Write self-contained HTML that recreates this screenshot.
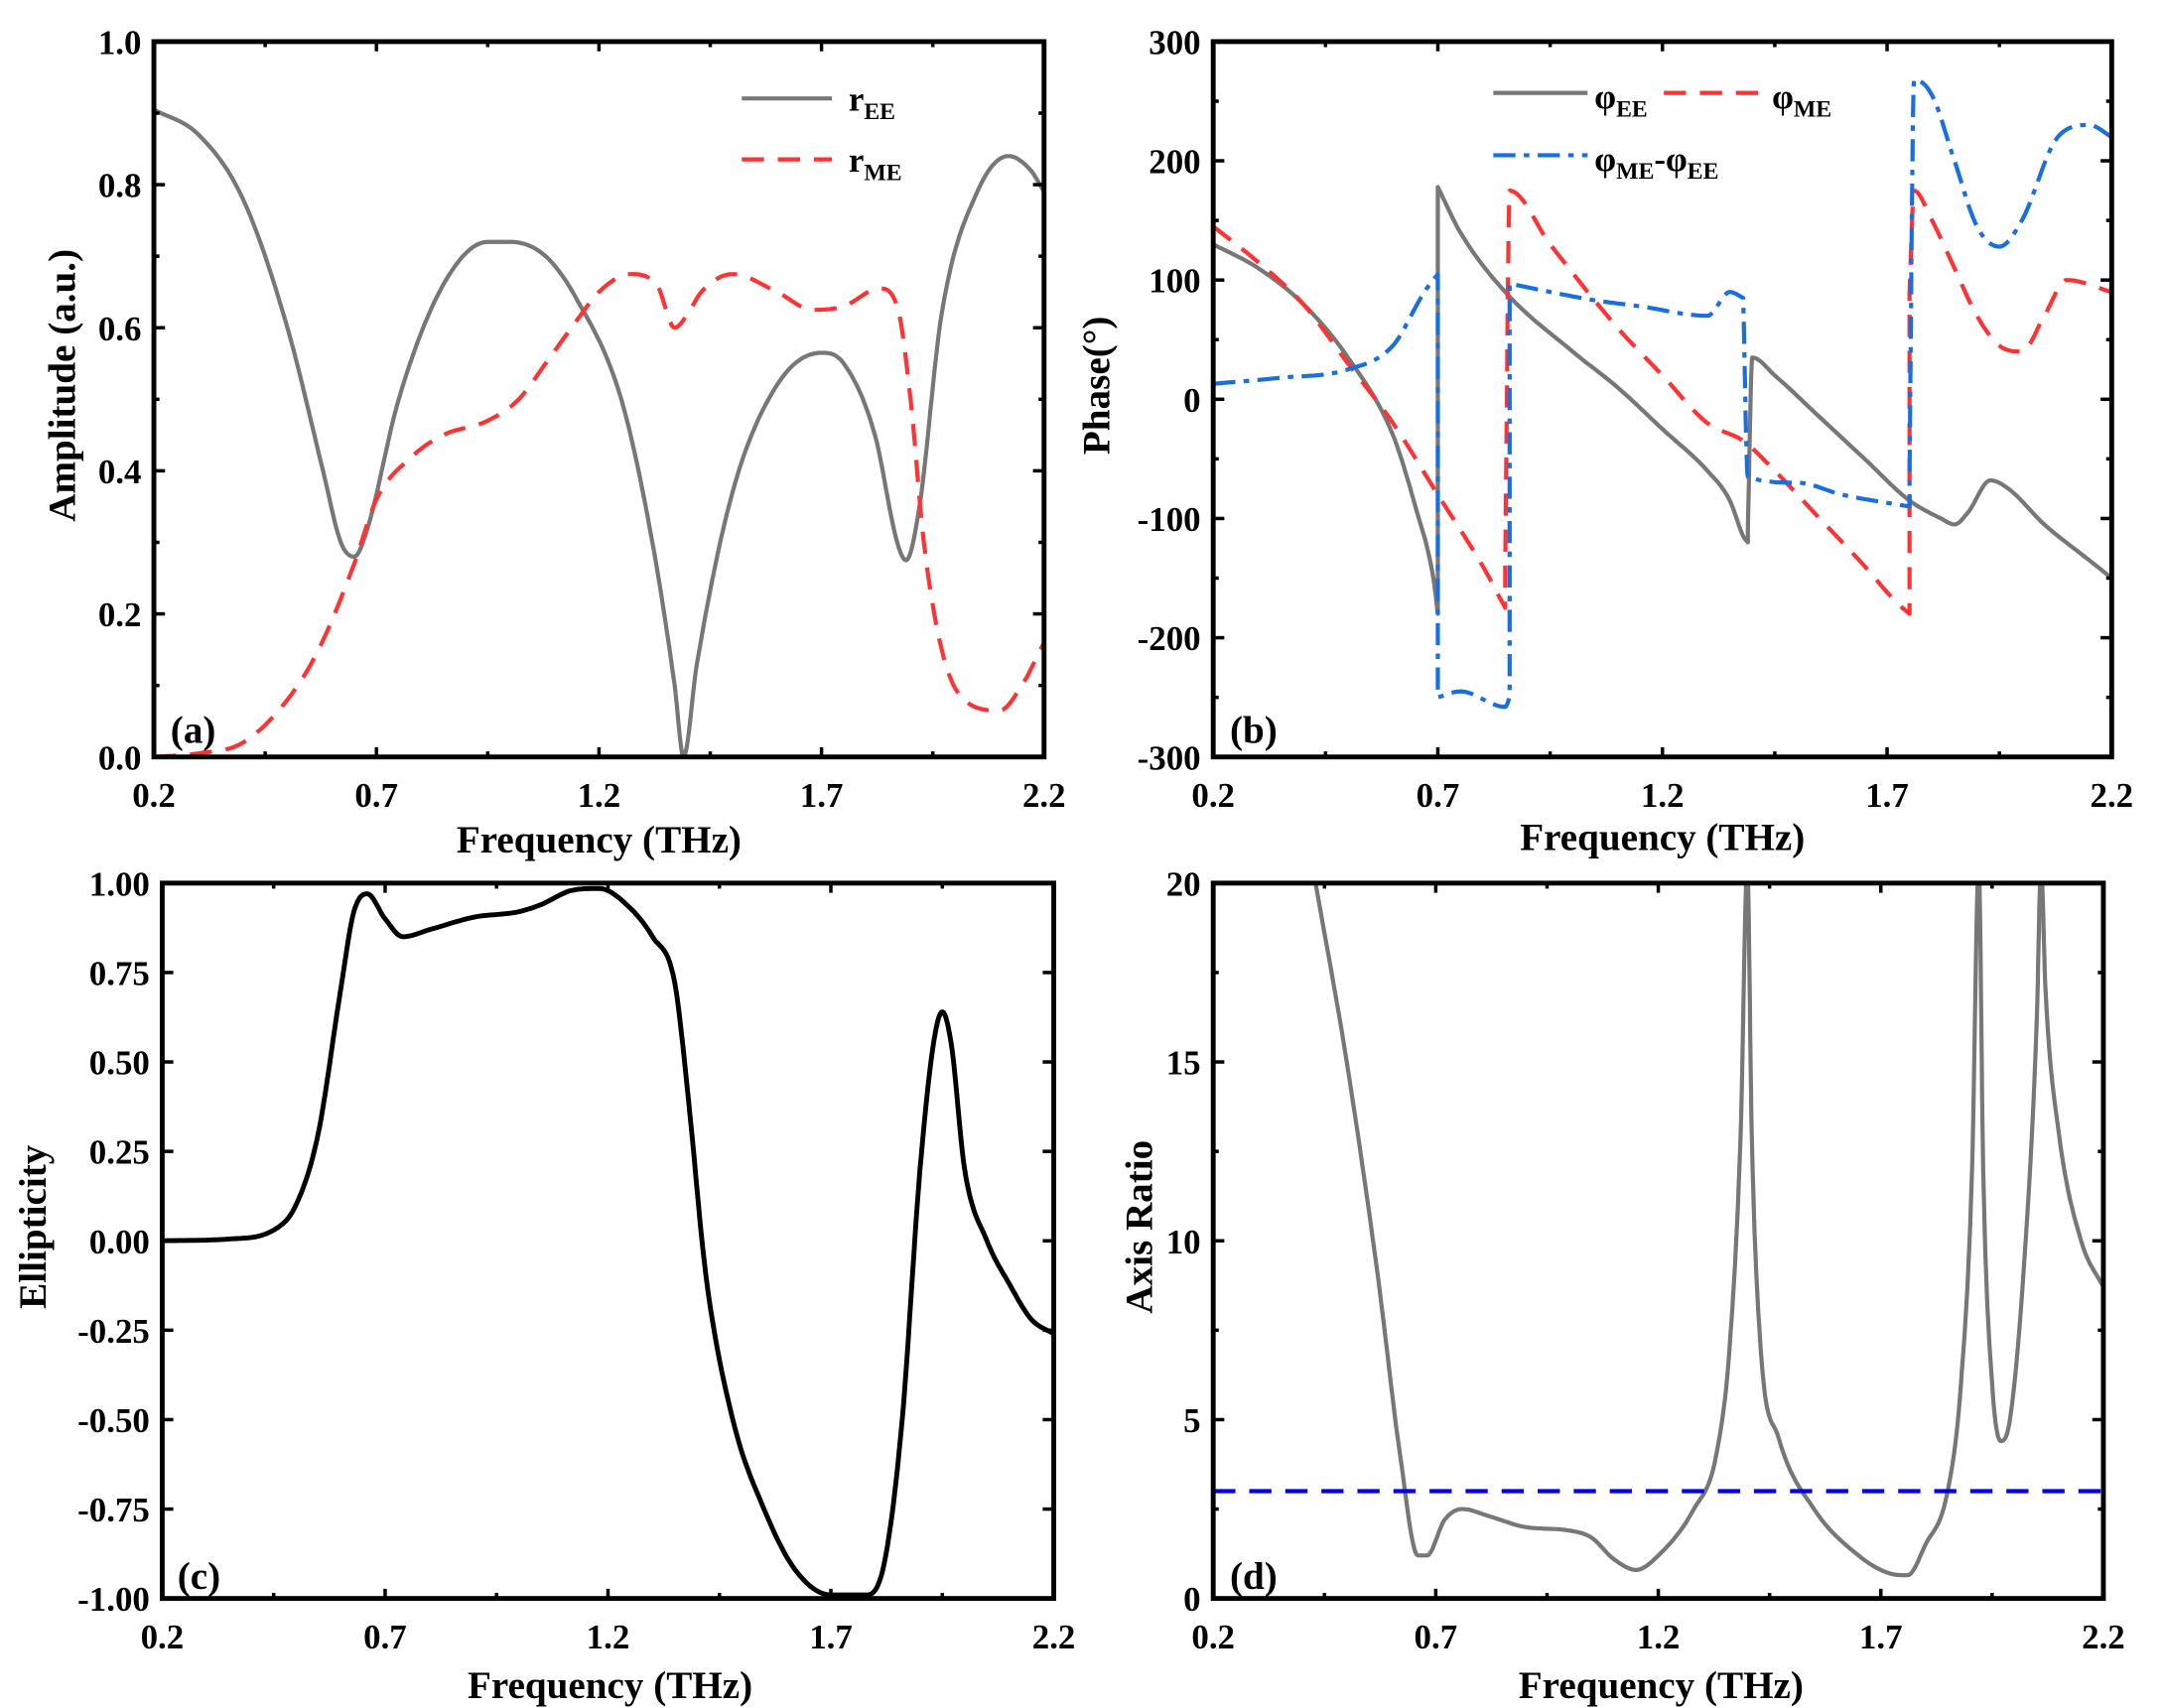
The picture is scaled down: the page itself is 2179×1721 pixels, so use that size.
<!DOCTYPE html>
<html><head><meta charset="utf-8"><style>
html,body{margin:0;padding:0;background:#fff;}
svg{display:block;}
text{font-family:"Liberation Serif","DejaVu Serif","Times New Roman",serif;font-weight:bold;fill:#000;}
</style></head><body>
<svg id="s" width="2179" height="1721" viewBox="0 0 1560 1232" preserveAspectRatio="none" font-family="Liberation Serif, DejaVu Serif, serif" xmlns="http://www.w3.org/2000/svg"></svg>
<script>
const S=document.getElementById('s');let out='';
function P(p){
 const X=v=>p.x0+(v-p.xa)/(p.xb-p.xa)*(p.x1-p.x0);
 const Y=v=>p.y1-(v-p.ya)/(p.yb-p.ya)*(p.y1-p.y0);
 p.X=X;p.Y=Y;return p;}
function axes(p,xt,yt,yfmt,ymin){
 const {x0,x1,y0,y1}=p;
 for(let i=0;i<xt.length;i++){const v=xt[i],x=p.X(v);
  out+=`<line x1="${x}" y1="${y1}" x2="${x}" y2="${y1-7}" stroke="#000" stroke-width="2.5"/><line x1="${x}" y1="${y0}" x2="${x}" y2="${y0+7}" stroke="#000" stroke-width="2.5"/>`;
  out+=`<text x="${x}" y="${y1+36}" font-size="25" text-anchor="middle">${v.toFixed(1)}</text>`;
  if(i<xt.length-1){const m=p.X((v+xt[i+1])/2);out+=`<line x1="${m}" y1="${y1}" x2="${m}" y2="${y1-4}" stroke="#000" stroke-width="2.5"/><line x1="${m}" y1="${y0}" x2="${m}" y2="${y0+4}" stroke="#000" stroke-width="2.5"/>`;}
 }
 for(let i=0;i<yt.length;i++){const v=yt[i],y=p.Y(v);
  out+=`<line x1="${x0}" y1="${y}" x2="${x0+8}" y2="${y}" stroke="#000" stroke-width="2.5"/><line x1="${x1}" y1="${y}" x2="${x1-8}" y2="${y}" stroke="#000" stroke-width="2.5"/>`;
  out+=`<text x="${x0-9}" y="${y+9}" font-size="25" text-anchor="end">${yfmt(v)}</text>`;
  if(ymin&&i<yt.length-1){const m=p.Y((v+yt[i+1])/2);out+=`<line x1="${x0}" y1="${m}" x2="${x0+4}" y2="${m}" stroke="#000" stroke-width="2.5"/><line x1="${x1}" y1="${m}" x2="${x1-4}" y2="${m}" stroke="#000" stroke-width="2.5"/>`;}
 }
}
function frame(p){out+=`<rect x="${p.x0}" y="${p.y0}" width="${p.x1-p.x0}" height="${p.y1-p.y0}" fill="none" stroke="#000" stroke-width="3.5"/>`;}
// monotone cubic sampling of a run with strictly increasing x
function mono(run){
 const n=run.length;if(n<3)return run;
 const xs=run.map(q=>q[0]),ys=run.map(q=>q[1]);
 const d=[],m=[];
 for(let i=0;i<n-1;i++)d.push((ys[i+1]-ys[i])/(xs[i+1]-xs[i]));
 m[0]=d[0];m[n-1]=d[n-2];
 for(let i=1;i<n-1;i++){m[i]=(d[i-1]*d[i]<=0)?0:(d[i-1]+d[i])/2;}
 for(let i=0;i<n-1;i++){if(d[i]===0){m[i]=0;m[i+1]=0;continue;}
  const a=m[i]/d[i],b=m[i+1]/d[i],h=a*a+b*b;if(h>9){const t=3/Math.sqrt(h);m[i]=t*a*d[i];m[i+1]=t*b*d[i];}}
 const res=[];
 for(let i=0;i<n-1;i++){const h=xs[i+1]-xs[i];
  for(let k=0;k<12;k++){const t=k/12,t2=t*t,t3=t2*t;
   const y=(2*t3-3*t2+1)*ys[i]+(t3-2*t2+t)*h*m[i]+(-2*t3+3*t2)*ys[i+1]+(t3-t2)*h*m[i+1];
   res.push([xs[i]+t*h,y]);}}
 res.push(run[n-1]);return res;
}
function smooth(d){
 const runs=[];let cur=[d[0]];
 for(let i=1;i<d.length;i++){if(d[i][0]<=cur[cur.length-1][0]){runs.push(cur);cur=[d[i]];}else cur.push(d[i]);}
 runs.push(cur);
 let r=[];runs.forEach(x=>{r=r.concat(mono(x));});return r;
}
function line(p,d,col,dash,w){
 d=smooth(d);
 let s=d.map(q=>p.X(q[0]).toFixed(1)+','+p.Y(q[1]).toFixed(1)).join(' ');
 out+=`<polyline points="${s}" fill="none" stroke="${col}" stroke-width="${w||3}" stroke-linejoin="round" ${dash?`stroke-dasharray="${dash}"`:''} clip-path="url(#c${p.id})"/>`;
}
function clip(p){out+=`<clipPath id="c${p.id}"><rect x="${p.x0}" y="${p.y0}" width="${p.x1-p.x0}" height="${p.y1-p.y0}"/></clipPath>`;}
const xt=[0.2,0.7,1.2,1.7,2.2];
// (a)
const A=P({id:'a',x0:111,x1:753,y0:30,y1:546,xa:0.2,xb:2.2,ya:0,yb:1});clip(A);
line(A,[[0.2,0.905],[0.3,0.87],[0.4,0.78],[0.5,0.6],[0.58,0.4],[0.62,0.3],[0.65,0.28],[0.68,0.32],[0.75,0.5],[0.85,0.66],[0.95,0.72],[1.0,0.72],[1.08,0.70],[1.15,0.64],[1.25,0.5],[1.32,0.3],[1.37,0.1],[1.39,0.0],[1.42,0.13],[1.5,0.37],[1.6,0.52],[1.7,0.565],[1.75,0.55],[1.82,0.45],[1.87,0.3],[1.89,0.275],[1.92,0.35],[1.97,0.62],[2.05,0.79],[2.12,0.84],[2.17,0.82],[2.2,0.79]],'#777');
line(A,[[0.2,0],[0.3,0.005],[0.4,0.02],[0.5,0.08],[0.57,0.15],[0.65,0.27],[0.7,0.36],[0.78,0.42],[0.85,0.45],[0.95,0.47],[1.02,0.5],[1.08,0.55],[1.15,0.61],[1.2,0.65],[1.27,0.675],[1.33,0.66],[1.37,0.6],[1.4,0.62],[1.43,0.65],[1.5,0.675],[1.6,0.65],[1.68,0.625],[1.75,0.63],[1.83,0.655],[1.87,0.63],[1.9,0.5],[1.93,0.3],[1.97,0.15],[2.02,0.08],[2.1,0.065],[2.15,0.1],[2.2,0.16]],'#f33','16 10');
frame(A);axes(A,xt,[0,0.2,0.4,0.6,0.8,1.0],v=>v.toFixed(1),true);
out+=`<line x1="535" y1="71" x2="600" y2="71" stroke="#777" stroke-width="3"/><text x="612" y="80" font-size="25">r<tspan font-size="17" dy="6">EE</tspan></text>`;
out+=`<line x1="535" y1="115" x2="600" y2="115" stroke="#f33" stroke-width="3" stroke-dasharray="16 10"/><text x="612" y="124" font-size="25">r<tspan font-size="17" dy="6">ME</tspan></text>`;
out+=`<text x="123" y="536" font-size="28">(a)</text>`;
out+=`<text x="432" y="615" font-size="28" text-anchor="middle">Frequency (THz)</text>`;
out+=`<text transform="translate(54,278) rotate(-90)" font-size="28" text-anchor="middle">Amplitude (a.u.)</text>`;
// (b)
const B=P({id:'b',x0:875,x1:1523,y0:30,y1:546,xa:0.2,xb:2.2,ya:-300,yb:300});clip(B);
line(B,[[0.2,130],[0.3,110],[0.4,80],[0.5,35],[0.6,-30],[0.65,-90],[0.69,-150],[0.7,-180],[0.7,178],[0.75,140],[0.85,90],[1.0,40],[1.1,10],[1.2,-25],[1.3,-60],[1.35,-85],[1.38,-115],[1.39,-120],[1.39,-110],[1.4,35],[1.45,20],[1.55,-15],[1.65,-50],[1.75,-85],[1.82,-100],[1.85,-105],[1.88,-95],[1.93,-68],[1.97,-75],[2.05,-105],[2.15,-135],[2.2,-150]],'#777');
line(B,[[0.2,145],[0.3,115],[0.4,80],[0.5,30],[0.6,-20],[0.7,-80],[0.8,-140],[0.85,-175],[0.85,-140],[0.86,175],[0.95,130],[1.1,60],[1.2,20],[1.3,-20],[1.38,-35],[1.45,-60],[1.55,-100],[1.65,-140],[1.72,-170],[1.75,-180],[1.75,90],[1.76,175],[1.8,150],[1.85,110],[1.9,70],[1.95,45],[2.0,40],[2.05,70],[2.1,100],[2.2,90]],'#f33','16 10');
line(B,[[0.2,13],[0.35,18],[0.5,25],[0.6,45],[0.67,90],[0.7,105],[0.7,-250],[0.75,-245],[0.85,-258],[0.86,-250],[0.86,97],[0.95,90],[1.05,83],[1.15,78],[1.3,70],[1.35,90],[1.38,85],[1.38,80],[1.39,-65],[1.5,-70],[1.6,-80],[1.75,-90],[1.75,-60],[1.76,268],[1.8,255],[1.85,200],[1.9,145],[1.95,128],[2.0,150],[2.08,220],[2.15,230],[2.2,220]],'#1a6fe0','16 6 4 6');
frame(B);axes(B,xt,[-300,-200,-100,0,100,200,300],v=>String(v),true);
out+=`<line x1="1077" y1="67" x2="1145" y2="67" stroke="#777" stroke-width="3"/><text x="1150" y="78" font-size="25">φ<tspan font-size="17" dy="6">EE</tspan></text>`;
out+=`<line x1="1200" y1="67" x2="1270" y2="67" stroke="#f33" stroke-width="3" stroke-dasharray="16 10"/><text x="1278" y="78" font-size="25">φ<tspan font-size="17" dy="6">ME</tspan></text>`;
out+=`<line x1="1077" y1="112" x2="1145" y2="112" stroke="#1a6fe0" stroke-width="3" stroke-dasharray="16 6 4 6"/><text x="1150" y="123" font-size="25">φ<tspan font-size="17" dy="6">ME</tspan><tspan dy="-6">-φ</tspan><tspan font-size="17" dy="6">EE</tspan></text>`;
out+=`<text x="887" y="536" font-size="28">(b)</text>`;
out+=`<text x="1199" y="613" font-size="28" text-anchor="middle">Frequency (THz)</text>`;
out+=`<text transform="translate(800,278) rotate(-90)" font-size="28" text-anchor="middle">Phase(°)</text>`;
// (c)
const C=P({id:'c',x0:117,x1:760,y0:637,y1:1153,xa:0.2,xb:2.2,ya:-1,yb:1});clip(C);
line(C,[[0.2,0],[0.35,0.005],[0.45,0.03],[0.5,0.1],[0.55,0.3],[0.6,0.7],[0.63,0.92],[0.66,0.97],[0.7,0.9],[0.74,0.85],[0.8,0.87],[0.9,0.905],[1.0,0.92],[1.05,0.94],[1.12,0.98],[1.18,0.985],[1.25,0.93],[1.3,0.85],[1.35,0.72],[1.38,0.4],[1.42,-0.1],[1.48,-0.5],[1.55,-0.75],[1.62,-0.92],[1.7,-0.99],[1.78,-0.99],[1.82,-0.9],[1.86,-0.5],[1.9,0.2],[1.93,0.55],[1.95,0.64],[1.97,0.55],[2.0,0.2],[2.05,0.0],[2.1,-0.12],[2.15,-0.22],[2.2,-0.26]],'#000',null,3.5);
frame(C);axes(C,xt,[-1,-0.75,-0.5,-0.25,0,0.25,0.5,0.75,1],v=>v.toFixed(2),false);
out+=`<text x="128" y="1146" font-size="28">(c)</text>`;
out+=`<text x="440" y="1225" font-size="28" text-anchor="middle">Frequency (THz)</text>`;
out+=`<text transform="translate(33,885) rotate(-90)" font-size="28" text-anchor="middle">Ellipticity</text>`;
// (d)
const D=P({id:'d',x0:875,x1:1517,y0:637,y1:1153,xa:0.2,xb:2.2,ya:0,yb:20});clip(D);
line(D,[[0.43,20],[0.5,15],[0.57,9],[0.62,4],[0.66,1.2],[0.68,1.2],[0.72,2.2],[0.76,2.5],[0.82,2.3],[0.9,2.0],[1.0,1.9],[1.05,1.7],[1.1,1.1],[1.15,0.8],[1.2,1.2],[1.28,2.5],[1.33,4],[1.36,7],[1.385,13],[1.4,20.5],[1.41,13],[1.43,7],[1.47,4.5],[1.55,2.5],[1.65,1.2],[1.72,0.7],[1.76,0.65],[1.8,1.5],[1.85,3.0],[1.88,6],[1.905,12],[1.92,20.5],[1.93,12],[1.95,6],[1.97,4.4],[1.99,5],[2.02,9],[2.05,16],[2.06,20.5],[2.07,17],[2.1,13],[2.15,10],[2.2,8.7]],'#777');
line(D,[[0.2,3],[2.2,3]],'#0000ee','16 10');
frame(D);axes(D,xt,[0,5,10,15,20],v=>String(v),true);
out+=`<text x="887" y="1146" font-size="28">(d)</text>`;
out+=`<text x="1198" y="1225" font-size="28" text-anchor="middle">Frequency (THz)</text>`;
out+=`<text transform="translate(831,885) rotate(-90)" font-size="28" text-anchor="middle">Axis Ratio</text>`;
S.innerHTML=out;
</script>
</body></html>
